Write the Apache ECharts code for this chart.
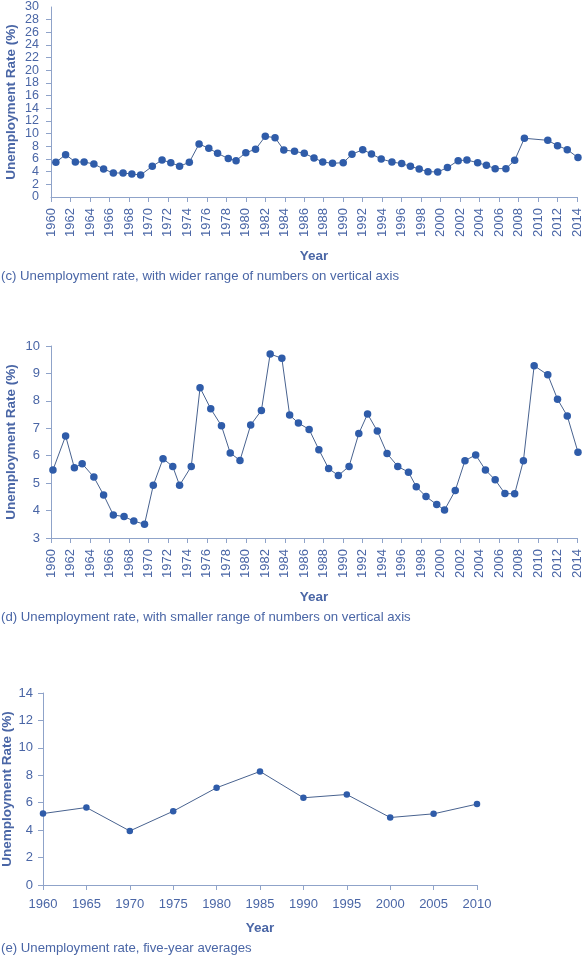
<!DOCTYPE html>
<html><head><meta charset="utf-8">
<script src="https://cdn.jsdelivr.net/npm/echarts@6/dist/echarts.min.js"></script>
<style>html,body{margin:0;padding:0;background:#fff}#c{width:588px;height:955px}</style>
</head><body><div id="c"></div>
<script>
// Chart (c): positions along the year axis and unemployment rates
const yearsC = [1960.5,1961.5,1962.5,1963.4,1964.4,1965.4,1966.4,1967.4,1968.3,1969.2,1970.4,1971.4,1972.3,1973.2,1974.2,1975.2,1976.2,1977.1,1978.2,1979.0,1980.0,1981.0,1982.0,1983.0,1983.9,1985.0,1986.0,1987.0,1987.9,1988.9,1990.0,1990.9,1992.0,1992.9,1993.9,1995.0,1996.0,1996.9,1997.8,1998.7,1999.7,2000.7,2001.8,2002.7,2003.8,2004.7,2005.6,2006.7,2007.6,2008.6,2011.0,2012.0,2013.0,2014.1];
const ratesC = [5.48,6.69,5.53,5.53,5.21,4.42,3.79,3.79,3.63,3.47,4.85,5.84,5.42,4.85,5.48,8.37,7.69,6.9,6.06,5.74,7.0,7.53,9.58,9.37,7.42,7.21,6.9,6.16,5.53,5.32,5.42,6.74,7.48,6.79,6.0,5.53,5.27,4.85,4.42,4.0,3.95,4.64,5.74,5.84,5.42,5.0,4.48,4.48,5.79,9.27,8.95,8.11,7.48,6.22];
// Chart (d)
const yearsD = [1960.2,1961.5,1962.4,1963.2,1964.4,1965.4,1966.4,1967.5,1968.5,1969.6,1970.5,1971.5,1972.5,1973.2,1974.4,1975.3,1976.4,1977.5,1978.4,1979.4,1980.5,1981.6,1982.5,1983.7,1984.5,1985.4,1986.5,1987.5,1988.5,1989.5,1990.6,1991.6,1992.5,1993.5,1994.5,1995.6,1996.7,1997.5,1998.5,1999.6,2000.4,2001.5,2002.5,2003.6,2004.6,2005.6,2006.6,2007.6,2008.5,2009.6,2011.0,2012.0,2013.0,2014.1];
const ratesD = [5.48,6.72,5.56,5.71,5.22,4.57,3.84,3.78,3.62,3.50,4.92,5.89,5.61,4.92,5.61,8.48,7.71,7.09,6.10,5.83,7.12,7.65,9.71,9.55,7.48,7.19,6.96,6.22,5.53,5.28,5.61,6.81,7.52,6.90,6.08,5.61,5.40,4.87,4.51,4.22,4.02,4.73,5.82,6.03,5.48,5.12,4.62,4.61,5.82,9.28,8.95,8.06,7.45,6.13];
// Chart (e): five-year averages
const yearsE = [1960,1965,1970,1975,1980,1985,1990,1995,2000,2005,2010];
const ratesE = [5.21,5.65,3.94,5.38,7.09,8.28,6.36,6.6,4.92,5.19,5.9];

const captions = [
  '(c) Unemployment rate, with wider range of numbers on vertical axis',
  '(d) Unemployment rate, with smaller range of numbers on vertical axis',
  '(e) Unemployment rate, five-year averages'
];
const yName = 'Unemployment Rate (%)';
const xName = 'Year';

const TXT = '#4a66a6';
const AX = '#8fa3c9';
const MK = '#2f5ca9';
const LN = '#48628f';
const FONT = 'Liberation Sans, Arial, sans-serif';

function pairs(xs, ys){ return xs.map((x,i)=>[x, ys[i]]); }

function xAxis(idx, min, max, interval, rotate, gap, margin){
  return {
    type:'value', gridIndex:idx, min:min, max:max, interval:interval,
    name:xName, nameLocation:'middle', nameGap:gap, nameMoveOverlap:false,
    nameTextStyle:{color:TXT, fontWeight:'bold', fontSize:13.5, fontFamily:FONT},
    axisLine:{show:true, lineStyle:{color:AX, width:1}},
    axisTick:{show:true, length:5, lineStyle:{color:AX}},
    splitLine:{show:false},
    axisLabel:{rotate:rotate, margin:margin, color:TXT, fontSize:13, fontFamily:FONT,
      hideOverlap:false, showMinLabel:true, showMaxLabel:true, formatter:v=>String(v)}
  };
}
function yAxis(idx, min, max, interval, gap, margin, fs, showEnds){
  return {
    type:'value', gridIndex:idx, min:min, max:max, interval:interval, position:'left',
    name:yName, nameLocation:'middle', nameGap:gap, nameRotate:90, nameMoveOverlap:false,
    nameTextStyle:{color:TXT, fontWeight:'bold', fontSize:13.5, fontFamily:FONT},
    axisLine:{show:true, lineStyle:{color:AX, width:1}},
    axisTick:{show:true, length:5, lineStyle:{color:AX}},
    splitLine:{show:false},
    axisLabel:{margin:margin, color:TXT, fontSize:fs, fontFamily:FONT,
      hideOverlap:false, showMinLabel:showEnds, showMaxLabel:showEnds}
  };
}
// extra axis on chart (c) carrying only the end labels (0 and 30)
function endLabelAxis(idx, min, max, margin, fs){
  return {
    type:'value', gridIndex:idx, min:min, max:max, interval:max - min, position:'left', offset:0,
    axisLine:{show:false}, axisTick:{show:false}, splitLine:{show:false},
    axisLabel:{margin:margin, color:TXT, fontSize:fs, fontFamily:FONT, showMinLabel:true, showMaxLabel:true}
  };
}
function series(idx, data, size){
  return {
    type:'line', xAxisIndex:idx, yAxisIndex:idx, data:data, clip:false,
    symbol:'circle', symbolSize:size, showSymbol:true,
    itemStyle:{color:MK}, lineStyle:{color:LN, width:1}, animation:false
  };
}

const gridBase = {containLabel:false, outerBoundsMode:'none'};

const chart = echarts.init(document.getElementById('c'), null, {renderer:'canvas'});
chart.setOption({
  animation:false,
  title: [
    {text:captions[0], left:1, top:270},
    {text:captions[1], left:1, top:611},
    {text:captions[2], left:1, top:942}
  ].map(t=>Object.assign(t,{padding:0, textStyle:{color:TXT, fontSize:13.2, fontWeight:'normal', fontFamily:FONT}})),
  grid: [
    Object.assign({left:51, right:11, top:7, height:190}, gridBase),
    Object.assign({left:51, right:11, top:346, height:192}, gridBase),
    Object.assign({left:43, right:111, top:693, height:192}, gridBase)
  ],
  xAxis: [
    xAxis(0, 1960, 2014, 2, 90, 52, 11),
    xAxis(1, 1960, 2014, 2, 90, 52, 11),
    xAxis(2, 1960, 2010, 5, 0, 36, 13)
  ],
  yAxis: [
    yAxis(0, 0, 30, 2, 33, 12, 12.5, false),
    yAxis(1, 3, 10, 1, 33, 11, 13, true),
    yAxis(2, 0, 14, 2, 29, 10, 13, true),
    endLabelAxis(0, 0, 30, 12, 12.5)
  ],
  series: [
    series(0, pairs(yearsC, ratesC), 7.5),
    series(1, pairs(yearsD, ratesD), 7.5),
    series(2, pairs(yearsE, ratesE), 6.5)
  ]
});
</script></body></html>
